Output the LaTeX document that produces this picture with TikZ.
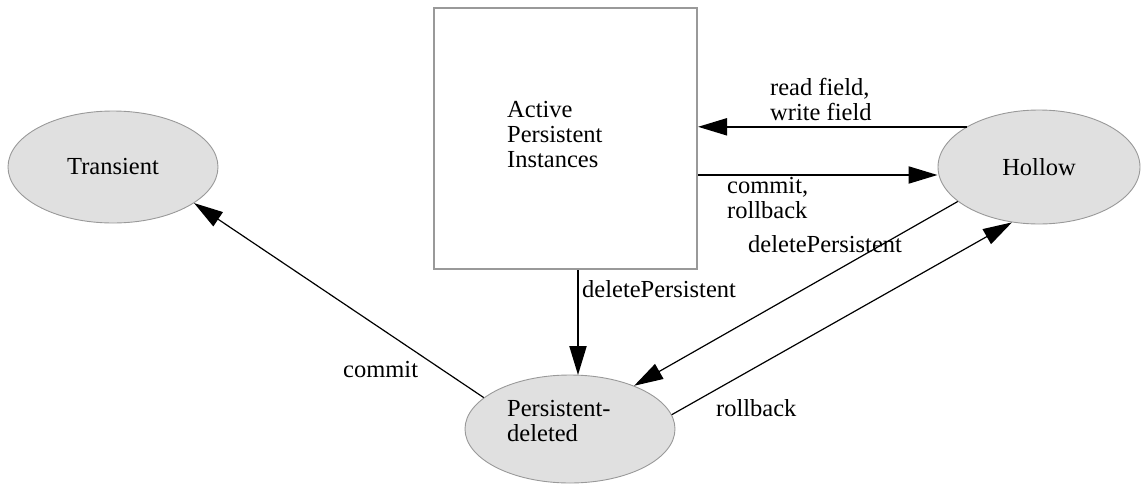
\documentclass[tikz,border=0pt]{standalone}
\usepackage{fontspec}
\setmainfont{Liberation Serif}
\usetikzlibrary{arrows.meta,shapes.geometric}
\definecolor{statefill}{HTML}{E0E0E0}
\definecolor{edgegray}{HTML}{999999}
\begin{document}
\begin{tikzpicture}[x=1pt,y=-1pt,
  txt/.style={font=\fontsize{24.5}{25}\selectfont},
  state/.style={ellipse, draw=edgegray, line width=0.9pt, fill=statefill, inner sep=0pt, txt},
  lbl/.style={txt, inner sep=0pt, align=left},
  boldarrow/.style={line width=2pt, -{Triangle[length=29pt,width=17pt]}},
  thinarrow/.style={line width=1.2pt, -{Triangle[length=29pt,width=17pt]}},
]
\useasboundingbox (0,0) rectangle (1141,485);
% states
\node[state, minimum width=210pt, minimum height=112pt] (tr) at (113,167) {Transient};
\node[state, minimum width=202pt, minimum height=114pt] (ho) at (1039,167) {Hollow};
\node[state, minimum width=210pt, minimum height=108pt] (pd) at (570,429) {};
\node[lbl, anchor=north west] (pdt) at (507,400) {Persistent-\\deleted};
% box
\node[draw=edgegray, line width=2pt, minimum width=263pt, minimum height=261pt, inner sep=0pt] (api) at (565.5,138.5) {};
\node[lbl, anchor=north west] (apit) at (507,101) {Active\\Persistent\\Instances};
% connectors
\draw[boldarrow] (ho.151) -- (ho.151 -| api.east);
\node[lbl, anchor=north west] (l1) at (770,78) {read field,\\write field};
\draw[boldarrow] ([yshift=-36.5pt]api.east) -- ([yshift=-36.5pt]api.east -| ho.west);
\node[lbl, anchor=north west] (l2) at (727,177) {commit,\\rollback};
\draw[boldarrow] ([xshift=12.5pt]api.south) -- ([xshift=12.5pt,yshift=-0.5pt]api.south |- pd.north);
\node[lbl, anchor=base west] (l3) at (582,297) {deletePersistent};
\draw[thinarrow] (ho.-157.4) -- (pd.34);
\node[lbl, anchor=base west] (l4) at (748,252) {deletePersistent};
\draw[thinarrow] (pd.8) -- (ho.-116);
\node[lbl, anchor=base west] (l5) at (716,416) {rollback};
\draw[thinarrow] (pd.160) -- (tr.-24);
\node[lbl, anchor=base west] (l6) at (343,377) {commit};
\end{tikzpicture}
\end{document}
